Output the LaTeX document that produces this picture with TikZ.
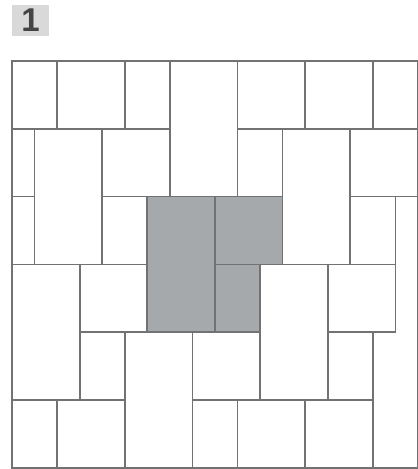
\documentclass[tikz,border=0pt]{standalone}
\usepackage{fontspec}
\setmainfont{Liberation Sans}
\definecolor{tileline}{HTML}{727272}
\definecolor{tilegray}{HTML}{A5A9AC}
\definecolor{labelbg}{HTML}{D9D9D9}
\definecolor{labeltext}{HTML}{444444}
\tikzset{
  tile/.style={draw=tileline, line width=1.7pt, fill=white},
  graytile/.style={tile, fill=tilegray},
  framebox/.style={draw=tileline, line width=1.7pt},
  labelbox/.style={fill=labelbg, draw=none},
  labeltxt/.style={text=labeltext, font=\bfseries\fontsize{33}{33}\selectfont, inner sep=0pt}
}
\begin{document}
\begin{tikzpicture}[x=1pt,y=1pt]
\useasboundingbox (0,0) rectangle (418,-469);
\fill[labelbox] (12,-5) rectangle (49,-36);
\node[labeltxt] (num) at (30.5,-20.5) {1};
\begin{scope}[shift={(12,-61)}, x={(22.55pt,0pt)}, y={(0pt,-22.6pt)}]
  \foreach \x/\y/\w/\h in {
    0/0/2/3, 2/0/3/3, 5/0/2/3, 7/0/3/6, 10/0/3/3, 13/0/3/3, 16/0/2/3,
    0/3/1/3, 1/3/3/6, 4/3/3/3, 10/3/2/3, 12/3/3/6, 15/3/3/3,
    0/6/1/3, 4/6/2/3, 15/6/2/3,
    0/9/3/6, 3/9/3/3, 11/9/3/6, 14/9/3/3,
    3/12/2/3, 5/12/3/6, 8/12/3/3, 14/12/2/3,
    0/15/2/3, 2/15/3/3, 8/15/2/3, 10/15/3/3, 13/15/3/3}
    \draw[tile] (\x,\y) rectangle ++(\w,\h);
  \foreach \x/\y/\w/\h in {6/6/3/6, 9/6/3/3, 9/9/2/3}
    \draw[graytile] (\x,\y) rectangle ++(\w,\h);
  \draw[framebox] (0,0) rectangle (18,18);
\end{scope}
\end{tikzpicture}
\end{document}
